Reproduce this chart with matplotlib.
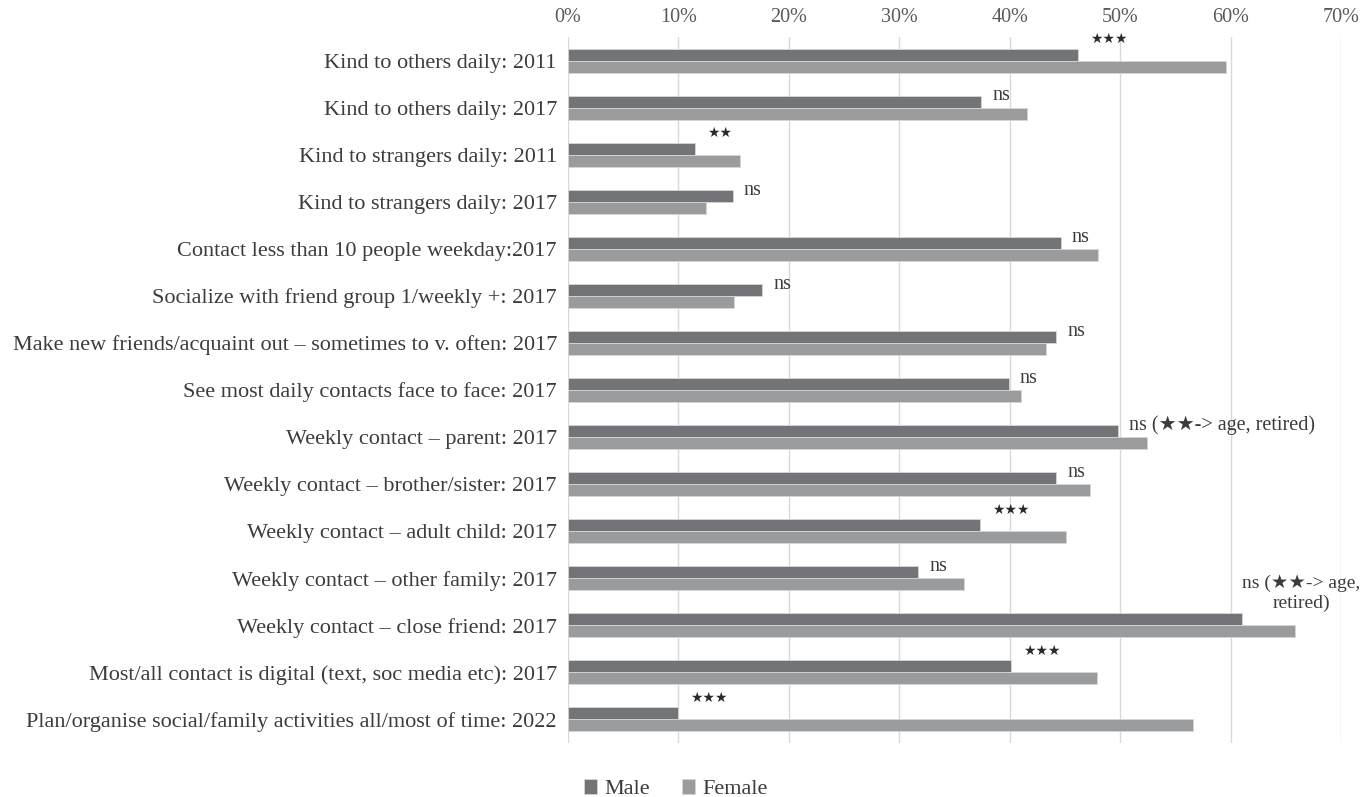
import matplotlib
matplotlib.use('Agg')
import matplotlib.pyplot as plt
import numpy as np

# Data (percent)
categories = [
    'Kind to others daily: 2011',
    'Kind to others daily: 2017',
    'Kind to strangers daily: 2011',
    'Kind to strangers daily: 2017',
    'Contact less than 10 people weekday:2017',
    'Socialize with friend group 1/weekly +: 2017',
    'Make new friends/acquaint out \u2013 sometimes to v. often: 2017',
    'See most daily contacts face to face: 2017',
    'Weekly contact \u2013 parent: 2017',
    'Weekly contact \u2013 brother/sister: 2017',
    'Weekly contact \u2013 adult child: 2017',
    'Weekly contact \u2013 other family: 2017',
    'Weekly contact \u2013 close friend: 2017',
    'Most/all contact is digital (text, soc media etc): 2017',
    'Plan/organise social/family activities all/most of time: 2022',
]
male = [46.2, 37.4, 11.5, 14.9, 44.6, 17.6, 44.2, 39.9, 49.8, 44.2, 37.3, 31.7, 61.0, 40.1, 10.0]
female = [59.6, 41.6, 15.6, 12.5, 48.0, 15.0, 43.3, 41.0, 52.4, 47.3, 45.1, 35.9, 65.8, 47.9, 56.6]
signif = ['\u2605\u2605\u2605', 'ns', '\u2605\u2605', 'ns', 'ns', 'ns', 'ns', 'ns',
          'ns (\u2605\u2605-> age, retired)', 'ns', '\u2605\u2605\u2605', 'ns',
          'ns (\u2605\u2605-> age,\nretired)', '\u2605\u2605\u2605', '\u2605\u2605\u2605']
xticks = [0, 10, 20, 30, 40, 50, 60, 70]

male_color = '#737477'
female_color = '#9a9b9d'
text_color = '#3c3c3c'
fonts = ['Liberation Serif', 'DejaVu Sans']

plt.rcParams['font.family'] = fonts

fig = plt.figure(figsize=(13.71, 7.97), dpi=100)
ax = fig.add_axes([568 / 1371, 1 - 743 / 797, (1341 - 568) / 1371, (743 - 37) / 797])

y = np.arange(len(categories))
h = 0.255
ax.barh(y - h / 2, male, height=h, color=male_color, edgecolor='#d6d6d6', linewidth=0.6, label='Male', zorder=3)
ax.barh(y + h / 2, female, height=h, color=female_color, edgecolor='#d6d6d6', linewidth=0.6, label='Female', zorder=3)

# significance notes next to the male bar
for i, (m, s) in enumerate(zip(male, signif)):
    if '\n' in s:
        ax.text(m + 5.4, i - h - 0.03, s, ha='center', va='bottom', fontsize=14,
                color=text_color, family=fonts, linespacing=1.2)
    elif s.startswith('\u2605'):
        ax.text(m + 1.1, i - h - 0.05, s, ha='left', va='bottom', fontsize=10,
                color='#2a2a2a', family=fonts)
    else:
        ax.text(m + 1.0, i - h / 2 - 0.12, s, ha='left', va='center', fontsize=14.5,
                color=text_color, family=fonts)

ax.set_xlim(0, 70)
ax.set_ylim(len(categories) - 0.5, -0.5)
ax.set_xticks(xticks)
ax.set_xticklabels([f'{t}%' for t in xticks])
ax.xaxis.tick_top()
ax.set_yticks(y)
ax.set_yticklabels(categories)
ax.tick_params(axis='x', length=0, pad=7, labelsize=14.5, labelcolor='#595959')
ax.tick_params(axis='y', length=0, pad=8, labelsize=16, labelcolor=text_color)
ax.grid(axis='x', color='#d9d9d9', linewidth=1.0, zorder=0)
ax.set_axisbelow(True)
for sp in ax.spines.values():
    sp.set_visible(False)

fig.legend(loc='lower center', bbox_to_anchor=(0.493, -0.028), ncol=2, frameon=False,
           fontsize=16, handlelength=0.6, handleheight=0.6, columnspacing=1.4,
           handletextpad=0.35, labelcolor=text_color)

fig.savefig('out.png', dpi=100)
